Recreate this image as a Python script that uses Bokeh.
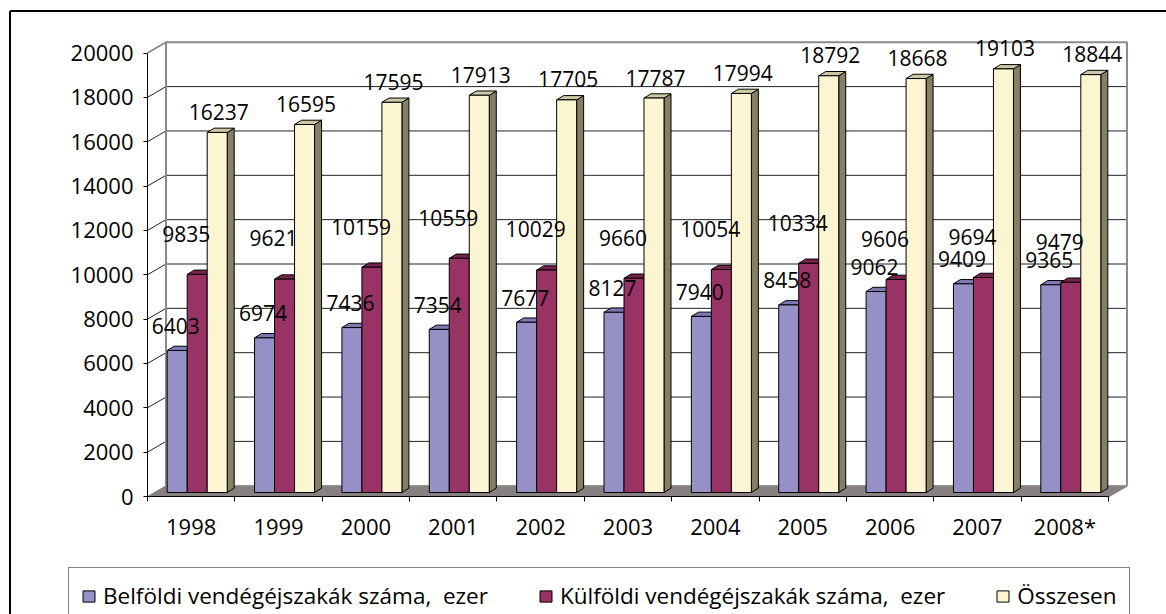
from bokeh.plotting import figure
from bokeh.models import Range1d, LinearAxis, FixedTicker, Legend, LegendItem
from bokeh.core.properties import value
from bokeh.embed import file_html
from bokeh.resources import INLINE

# ---------------- data ----------------
years = ["1998", "1999", "2000", "2001", "2002", "2003", "2004", "2005", "2006", "2007", "2008*"]
domestic = [6403, 6974, 7436, 7354, 7677, 8127, 7940, 8458, 9062, 9409, 9365]
foreign = [9835, 9621, 10159, 10559, 10029, 9660, 10054, 10334, 9606, 9694, 9479]
total = [16237, 16595, 17595, 17913, 17705, 17787, 17994, 18792, 18668, 19103, 18844]
series_names = ["Belföldi vendégéjszakák száma,  ezer",
                "Külföldi vendégéjszakák száma,  ezer",
                "Összesen"]
y_ticks = [0, 2000, 4000, 6000, 8000, 10000, 12000, 14000, 16000, 18000, 20000]

# ---------------- layout constants (pixels) ----------------
W, H = 1166, 614
AX_X = 147.0          # canvas x of front value axis
CAT_PX = 87.36        # px per category
ZERO_Y = 118.0        # px from canvas bottom to value 0 (front plane)
PX_PER_UNIT = 443.5 / 20000.0

def dx(px):
    return px / CAT_PX

def dy(px):
    return px / PX_PER_UNIT

x0 = -0.5 - AX_X / CAT_PX
x1 = -0.5 + (W - AX_X) / CAT_PX
y0 = -ZERO_Y / PX_PER_UNIT
y1 = (H - ZERO_Y) / PX_PER_UNIT

FONT = value("Open Sans")

p = figure(width=W, height=H, x_range=Range1d(x0, x1), y_range=Range1d(y0, y1),
           output_backend="svg", toolbar_location=None, min_border=0,
           x_axis_type=None, y_axis_type=None)
p.grid.visible = False
p.outline_line_color = None
p.background_fill_color = "white"
p.border_fill_color = "white"

n = len(years)
ncat = n
WDX, WDY = dx(18.5), dy(10.75)          # wall depth
ymax = y_ticks[-1]
xl, xr = -0.5, ncat - 0.5

# ---- back wall gridlines ----
inner = [t for t in y_ticks if 0 < t < ymax]
p.multi_line(xs=[[xl + WDX, xr + WDX] for t in inner],
             ys=[[t + WDY, t + WDY] for t in inner], line_color="#222222", line_width=1)
# left wall diagonals
p.multi_line(xs=[[xl, xl + WDX] for t in inner],
             ys=[[t, t + WDY] for t in inner], line_color="#222222", line_width=1)
# wall borders (gray)
p.multi_line(xs=[[xl, xl + WDX, xr + WDX, xr + WDX], [xl + WDX, xl + WDX], [xr, xr + WDX]],
             ys=[[ymax, ymax + WDY, ymax + WDY, WDY], [WDY, ymax + WDY], [0, WDY]],
             line_color="#8a8a8a", line_width=2)

# ---- floor ----
p.patch(x=[xl, xr, xr + WDX, xl + WDX], y=[0, 0, WDY, WDY],
        fill_color="#878181", line_color="#878181", line_width=1)

# ---- bars ----
BAR_W = dx(20)
BAR_OFF = dx(19.7)
BOT = dy(4)
BDX, BDY = dx(7), dy(4.3)
series = [domestic, foreign, total]
front_cols = ["#9591C6", "#993366", "#FBF6D1"]
top_cols = ["#7D79B5", "#76234D", "#CCC8A2"]
side_cols = ["#6E6A9E", "#6A1E44", "#857F66"]
label_dx = [dx(-1.5), dx(-11), dx(1.5)]
label_dy = [dy(24.7), dy(40.7), dy(20.4)]

front_renderers = []
for i, vals in enumerate(series):
    lefts = [k - 0.5 + BAR_OFF + i * BAR_W for k in range(n)]
    rights = [l + BAR_W for l in lefts]
    tops = [v + BOT for v in vals]
    p.patches(xs=[[r, r + BDX, r + BDX, r] for r in rights],
              ys=[[BOT, BOT + BDY, t + BDY, t] for t in tops],
              fill_color=side_cols[i], line_color="black", line_width=1)
    p.patches(xs=[[l, r, r + BDX, l + BDX] for l, r in zip(lefts, rights)],
              ys=[[t, t, t + BDY, t + BDY] for t in tops],
              fill_color=top_cols[i], line_color="black", line_width=1)
    fr = p.quad(left=lefts, right=rights, bottom=[BOT] * n, top=tops,
                fill_color=front_cols[i], line_color="black", line_width=1)
    front_renderers.append(fr)

# ---- data labels ----
for i, vals in enumerate(series):
    cx = [k - 0.5 + BAR_OFF + (i + 0.5) * BAR_W + label_dx[i] for k in range(n)]
    cy = [v + BOT + label_dy[i] for v in vals]
    p.text(x=cx, y=cy, text=[str(v) for v in vals], text_font=FONT,
           text_font_size="21px", text_align="center", text_baseline="middle",
           text_color="black")

# ---- axes ----
yax = LinearAxis(fixed_location=xl, ticker=FixedTicker(ticks=y_ticks), bounds=(0, ymax))
yax.axis_line_color = "black"
yax.major_tick_line_color = "black"
yax.major_tick_out = 4
yax.major_tick_in = 0
yax.minor_tick_line_color = None
yax.major_label_standoff = 10
yax.major_label_text_font = "Open Sans"
yax.major_label_text_font_size = "22px"
yax.major_label_text_color = "black"
p.add_layout(yax, "left")

centers = list(range(n))
bounds_t = [k - 0.5 for k in range(n + 1)]
xax = LinearAxis(fixed_location=0, ticker=FixedTicker(ticks=centers, minor_ticks=bounds_t),
                 bounds=(xl, xr))
xax.axis_line_color = "black"
xax.major_tick_line_color = None
xax.major_tick_out = 0
xax.major_tick_in = 0
xax.minor_tick_line_color = "black"
xax.minor_tick_out = 5
xax.minor_tick_in = 0
xax.major_label_standoff = 9
xax.major_label_overrides = {c: y for c, y in zip(centers, years)}
xax.major_label_text_font = "Open Sans"
xax.major_label_text_font_size = "22px"
xax.major_label_text_color = "black"
p.add_layout(xax, "below")

# ---- outer chart border (left & top visible) ----
p.multi_line(xs=[[x0 + dx(9.5), x0 + dx(9.5)], [x0 + dx(9.5), x1]],
             ys=[[y0, y1 - dy(10.5)], [y1 - dy(10.5), y1 - dy(10.5)]],
             line_color="black", line_width=2)

# ---- legend ----
legend = Legend(items=[LegendItem(label=nm, renderers=[r]) for nm, r in zip(series_names, front_renderers)],
                location=(68, -10), orientation="horizontal",
                padding=12, spacing=50, margin=0,
                glyph_width=15, glyph_height=14, label_standoff=7,
                label_text_font="Open Sans", label_text_font_size="22.5px",
                label_text_color="black",
                border_line_color="black", border_line_width=1,
                background_fill_color="white", background_fill_alpha=1.0)
p.add_layout(legend)

open("out.html", "w").write(file_html(p, INLINE))
